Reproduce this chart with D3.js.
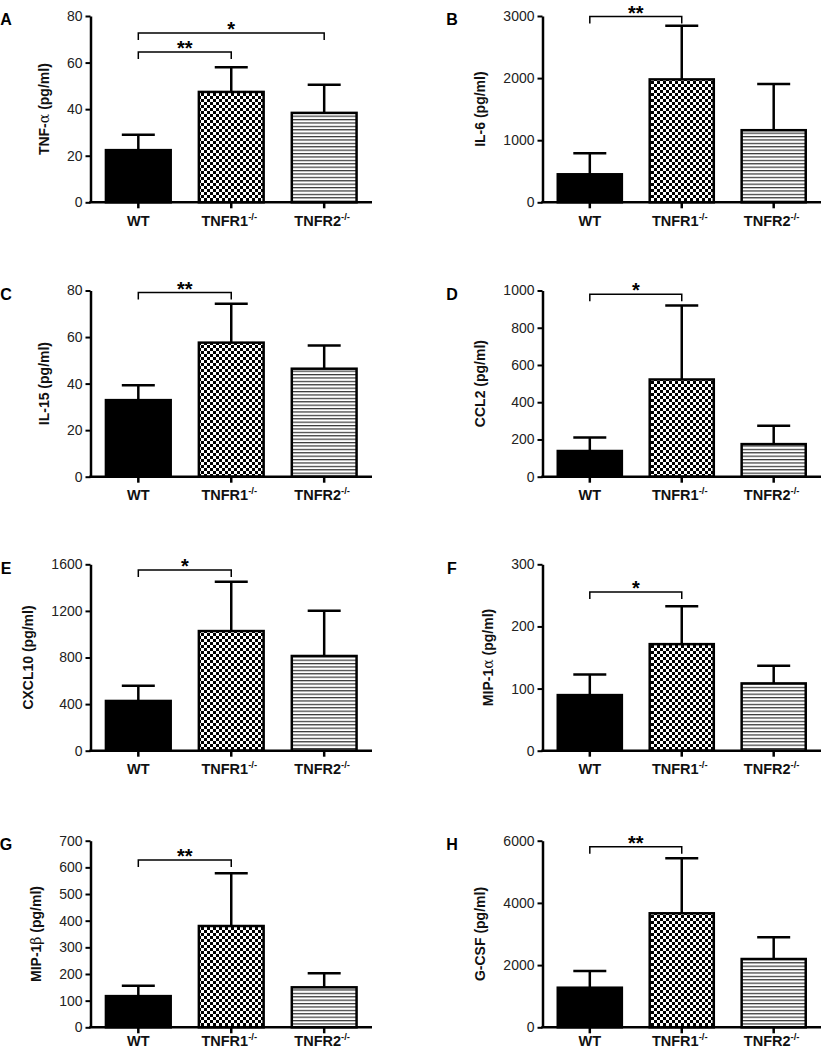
<!DOCTYPE html>
<html>
<head>
<meta charset="utf-8">
<script src="https://cdn.jsdelivr.net/npm/d3@7"></script>
<style>
  html, body { margin: 0; padding: 0; background: #fff; }
  svg { display: block; font-family: Arial, "Liberation Sans", sans-serif; }
</style>
</head>
<body>
<svg id="chart" width="824" height="1050"></svg>
<script>
// ---------- DATA ----------
const categories = ["WT", "TNFR1", "TNFR2"];
const panelLetters = ["A", "B", "C", "D", "E", "F", "G", "H"];
const yLabelMain = ["TNF-", "IL-6", "IL-15", "CCL2", "CXCL10", "MIP-1", "MIP-1", "G-CSF"];
const yLabelGreek = ["α", "", "", "", "", "α", "β", ""];
const yMax = [80, 3000, 80, 1000, 1600, 300, 700, 6000];
const yStep = [20, 1000, 20, 200, 400, 100, 100, 2000];
// mean values per panel (WT, TNFR1-/-, TNFR2-/-)
const meanValues = [
  [22.4, 47.4, 38.4],
  [451, 1979, 1161],
  [32.9, 57.6, 46.4],
  [138, 522, 175],
  [427, 1027, 813],
  [89.5, 171.5, 108.3],
  [117, 380, 150],
  [1273, 3666, 2196]
];
// upper end of error bars (mean + SEM)
const errorTops = [
  [29.0, 58.0, 50.5],
  [790, 2844, 1903],
  [39.3, 74.3, 56.4],
  [211, 920, 273],
  [558, 1451, 1202],
  [122.8, 232.5, 136.6],
  [156, 578, 203],
  [1810, 5434, 2894]
];
// significance brackets: [fromIndex, toIndex, value level, label]
const brackets = [
  [[0, 1, 64.5, "**"], [0, 2, 72.7, "*"]],
  [[0, 1, 2990, "**"]],
  [[0, 1, 79.1, "**"]],
  [[0, 1, 980, "*"]],
  [[0, 1, 1551, "*"]],
  [[0, 1, 255.5, "*"]],
  [[0, 1, 627.6, "**"]],
  [[0, 1, 5807, "**"]]
];

// ---------- LAYOUT ----------
const colX0 = [90.5, 542.5];
const colX1 = [372, 821];
const rowTop = [16, 290.5, 564.3, 840.7];
const rowBottom = [202.3, 476.7, 750.7, 1027.3];
const xLabelOffset = [24, 23, 23, 18.5];

const svg = d3.select("#chart");
const defs = svg.append("defs");

// checkerboard pattern
const checker = defs.append("pattern")
  .attr("id", "checker").attr("patternUnits", "userSpaceOnUse")
  .attr("width", 6).attr("height", 6);
checker.append("rect").attr("width", 6).attr("height", 6).attr("fill", "#fff");
checker.append("rect").attr("x", 0).attr("y", 0).attr("width", 3).attr("height", 3).attr("fill", "#000");
checker.append("rect").attr("x", 3).attr("y", 3).attr("width", 3).attr("height", 3).attr("fill", "#000");

// horizontal stripes pattern
const stripes = defs.append("pattern")
  .attr("id", "stripes").attr("patternUnits", "userSpaceOnUse")
  .attr("width", 8).attr("height", 3.4);
stripes.append("rect").attr("width", 8).attr("height", 3.4).attr("fill", "#fff");
stripes.append("rect").attr("x", 0).attr("y", 0).attr("width", 8).attr("height", 1.2).attr("fill", "#333");

const fills = ["#000", "url(#checker)", "url(#stripes)"];
const sw = 2.5;

panelLetters.forEach((letter, i) => {
  const col = i % 2, row = Math.floor(i / 2);
  const x0 = colX0[col], x1 = colX1[col];
  const yTop = rowTop[row], yBot = rowBottom[row];

  const x = d3.scaleBand().domain(categories).range([x0, x1])
    .paddingInner(0.303).paddingOuter(0.166);
  const y = d3.scaleLinear().domain([0, yMax[i]]).range([yBot, yTop]);

  const g = svg.append("g");

  // bars
  categories.forEach((c, k) => {
    const cx = x(c) + x.bandwidth() / 2;
    // error bar
    g.append("line")
      .attr("x1", cx).attr("x2", cx)
      .attr("y1", y(meanValues[i][k])).attr("y2", y(errorTops[i][k]))
      .attr("stroke", "#000").attr("stroke-width", sw);
    g.append("line")
      .attr("x1", cx - 16.5).attr("x2", cx + 16.5)
      .attr("y1", y(errorTops[i][k])).attr("y2", y(errorTops[i][k]))
      .attr("stroke", "#000").attr("stroke-width", sw);
    g.append("rect")
      .attr("x", x(c)).attr("width", x.bandwidth())
      .attr("y", y(meanValues[i][k])).attr("height", yBot - y(meanValues[i][k]))
      .attr("fill", fills[k]).attr("stroke", "#000").attr("stroke-width", sw);
  });

  // y axis
  const yAxis = d3.axisLeft(y)
    .tickValues(d3.range(0, yMax[i] + yStep[i] / 2, yStep[i]))
    .tickSize(5).tickSizeOuter(0).tickPadding(3)
    .tickFormat(d3.format("d"));
  const ga = g.append("g").attr("transform", `translate(${x0},0)`).call(yAxis);
  ga.select(".domain").attr("stroke", "#000").attr("stroke-width", sw);
  ga.selectAll(".tick line").attr("stroke", "#000").attr("stroke-width", 2);
  ga.selectAll(".tick text").attr("font-size", 14).attr("fill", "#222")
    .attr("font-family", "Arial, 'Liberation Sans', sans-serif");

  // x axis
  const xAxis = d3.axisBottom(x).tickSize(6).tickSizeOuter(0).tickFormat("");
  const gx = g.append("g").attr("transform", `translate(0,${yBot})`).call(xAxis);
  gx.select(".domain").attr("stroke", "#000").attr("stroke-width", sw)
    .attr("d", `M${x0 - 1.2},0H${x1}`);
  gx.selectAll(".tick line").attr("stroke", "#000").attr("stroke-width", 2.5);

  // x labels
  categories.forEach((c, k) => {
    const cx = x(c) + x.bandwidth() / 2;
    const t = g.append("text")
      .attr("x", cx - (k === 0 ? 0 : 2)).attr("y", yBot + xLabelOffset[row])
      .attr("text-anchor", "middle").attr("font-size", 14.5).attr("font-weight", "bold")
      .attr("fill", "#111");
    t.append("tspan").text(c);
    if (k > 0) {
      t.append("tspan").attr("font-size", 9.5).attr("dy", -6).text("-/-");
    }
  });

  // y label
  const bb = ga.node().getBBox();
  const lx = x0 + bb.x - 23;
  const ly = (yTop + yBot) / 2;
  const yl = g.append("text")
    .attr("transform", `translate(${lx},${ly}) rotate(-90)`)
    .attr("text-anchor", "middle").attr("dominant-baseline", "central")
    .attr("font-size", 14).attr("font-weight", "bold").attr("fill", "#111");
  yl.append("tspan").text(yLabelMain[i]);
  if (yLabelGreek[i]) yl.append("tspan").attr("font-weight", "normal").attr("font-family", "'DejaVu Serif', serif").text(yLabelGreek[i]);
  yl.append("tspan").text(" (pg/ml)");

  // brackets
  brackets[i].forEach(([a, b, v, lab]) => {
    const xa = x(categories[a]) + x.bandwidth() / 2;
    const xb = x(categories[b]) + x.bandwidth() / 2;
    const by = y(v);
    g.append("path")
      .attr("d", `M${xa},${by + 7}V${by}H${xb}V${by + 7}`)
      .attr("fill", "none").attr("stroke", "#000").attr("stroke-width", 1.5);
    g.append("text")
      .attr("x", (xa + xb) / 2).attr("y", by + 3)
      .attr("text-anchor", "middle").attr("font-size", 20).attr("font-weight", "bold")
      .attr("fill", "#000").text(lab);
  });

  // panel letter
  g.append("text")
    .attr("x", col === 0 ? 6 : 452).attr("y", yTop + (row === 0 ? 3 : 4))
    .attr("dominant-baseline", "central").attr("text-anchor", "middle")
    .attr("font-size", 16).attr("font-weight", "bold").attr("fill", "#000")
    .text(letter);
});
</script>
</body>
</html>
